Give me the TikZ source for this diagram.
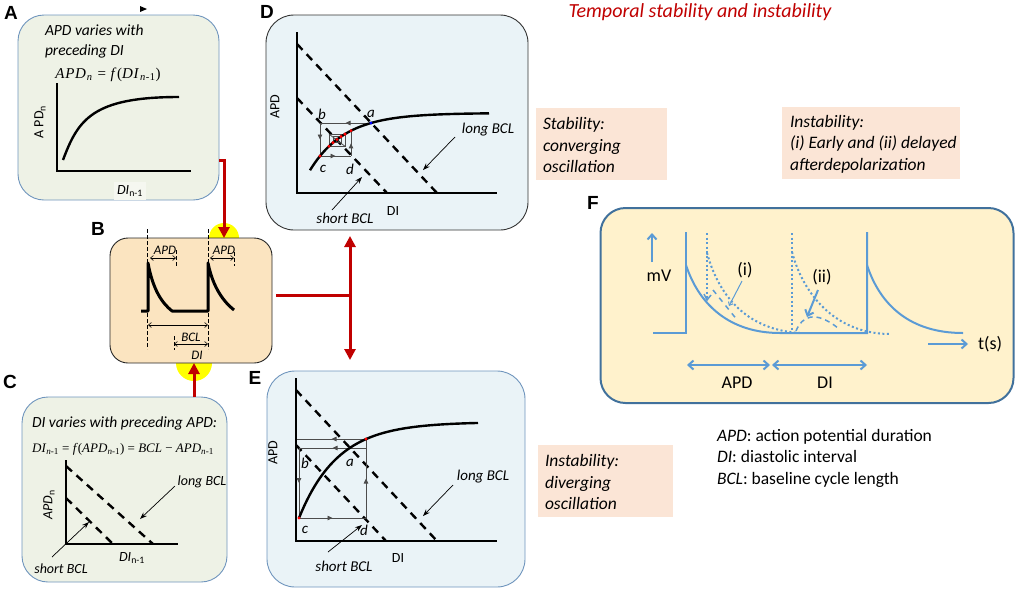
\documentclass[tikz,border=0pt]{standalone}
\usepackage{fontspec}
\setmainfont{Carlito}
\newfontfamily\tnr{Liberation Serif}
\newfontfamily\tnrsp[LetterSpace=5]{Liberation Serif}
\newfontfamily\arl{Liberation Sans}
\usetikzlibrary{arrows.meta,decorations.markings}
\definecolor{redc}{HTML}{C00000}
\definecolor{greenbox}{HTML}{EEF2E6}
\definecolor{greenlab}{HTML}{F5F7F0}
\definecolor{bluebd}{HTML}{6F95BD}
\definecolor{bluebox}{HTML}{EAF3F7}
\definecolor{orangebox}{HTML}{FBE4C0}
\definecolor{peach}{HTML}{FBE5D6}
\definecolor{yellowbox}{HTML}{FFF2CC}
\definecolor{fborder}{HTML}{41719C}
\definecolor{apblue}{HTML}{5B9BD5}
\definecolor{yel}{HTML}{FFFF00}
\newcommand\fsz[2]{\fontsize{#1}{#2}\selectfont}
\begin{document}
\begin{tikzpicture}[x=1pt,y=-1pt,
  lbl/.style={inner sep=0pt, outer sep=0pt},
  letter/.style={lbl, font=\arl\bfseries\fsz{19}{22}},
  box/.style={outer sep=0pt, inner sep=0pt, line width=0.9pt},
  axis/.style={line width=2.4pt},
  curve/.style={line width=2.4pt},
  bcl/.style={line width=2.4pt, dash pattern=on 8pt off 6pt},
  ptr/.style={line width=0.7pt, -{Stealth[length=7pt,width=5pt]}},
  cob/.style={draw=black!70, line width=0.8pt},
  midarr/.style={postaction={decorate}, decoration={markings, mark=at position 0.5 with {\arrow{Triangle[length=5pt,width=4.5pt]}}}},
  redl/.style={draw=redc, line width=3pt},
  redarr/.style={redl, -{Triangle[length=11pt,width=11pt]}},
  apl/.style={line width=3pt, line join=round},
  tdash/.style={line width=0.7pt, dash pattern=on 3.5pt off 2.5pt},
  dbl/.style={line width=0.6pt, {Straight Barb[length=3pt,width=5pt]}-{Straight Barb[length=3pt,width=5pt]}},
  bl/.style={draw=apblue, line width=2pt},
  bdot/.style={draw=apblue, line width=2pt, dash pattern=on 2pt off 2.5pt},
  bdbl/.style={bl, {Straight Barb[length=5pt,width=9pt]}-{Straight Barb[length=5pt,width=9pt]}},
  barr/.style={bl, -{Straight Barb[length=5pt,width=9pt]}},
  reddot/.style={fill=red},
]
\useasboundingbox (0,0) rectangle (1017,590);

% title
\node[lbl, font=\itshape\fsz{20}{24}, text=redc] (title) at (700,12) {Temporal stability and instability};
\fill (140,6) -- (147,9) -- (140,12) -- cycle;

% ---------- Panel A
\node[letter] (LA) at (11,13) {A};
\node[box, draw=bluebd, fill=greenbox, rounded corners=26pt, minimum width=201pt, minimum height=185pt] (A) at (118.5,107.5) {};
\node[lbl, anchor=west, align=left, font=\itshape\fsz{15.5}{20}] (Atxt) at (45,41) {APD varies with\\preceding DI};
\node[lbl, font=\tnrsp\fsz{15}{18}] (Aeq) at (108,75) {\textit{APD}\textsubscript{\textit{n}} = \textit{f}(\textit{DI}\textsubscript{\textit{n}-1})};
\draw[axis] (57,83) -- (57,171) -- (191,171);
\draw[curve] (63,160) .. controls (78,120) and (92,97) .. (179,97);
\node[lbl, rotate=90, font=\fsz{14}{17}] (Ay) at (40,122) {A PD\textsubscript{n}};
\node[lbl, fill=greenlab, inner sep=3pt, font=\itshape\fsz{14}{17}] (Ax) at (130,191) {DI\textsubscript{\upshape n-1}};

% ---------- Panel B
\coordinate (Btop) at (224,238);
\coordinate (Bbot) at (194,363);
\fill[yel] (Btop) circle (15);
\fill[yel] (Bbot) circle (18);
\node[letter] (LB) at (98,229) {B};
\node[box, draw=black!85, fill=orangebox, rounded corners=18pt, minimum width=162pt, minimum height=125pt] (B) at (191,300.5) {};
\draw[tdash] (147,229) -- (147,349);
\draw[tdash] (208,229) -- (208,349);
\draw[tdash] (176,250) -- (176,267);
\draw[tdash] (234,252) -- (234,266);
\draw[tdash] (174,336) -- (174,350);
\draw[apl] (141,311) -- (148,311) -- (148,263) .. controls (153,290) and (162,303) .. (172,311) -- (208,311) -- (208,263) .. controls (213,288) and (224,302) .. (234,310);
\draw[dbl] (150,258) -- (176,258);
\draw[dbl] (210,258) -- (234,258);
\draw[dbl] (148,325) -- (208,325);
\draw[dbl] (174,344) -- (208,344);
\node[lbl, font=\itshape\fsz{13}{15}] (Bapd1) at (165,250) {APD};
\node[lbl, font=\itshape\fsz{13}{15}] (Bapd2) at (224,250) {APD};
\node[lbl, font=\itshape\fsz{13}{15}] (Bbcl) at (191,337) {BCL};
\node[lbl, font=\itshape\fsz{13}{15}] (Bdi) at (197,355) {DI};

% red connector A->B
\draw[redarr] (A.east |- 0,160) -| (Btop);

% ---------- Panel C
\node[letter] (LC) at (10,382) {C};
\node[box, draw=bluebd, fill=greenbox, rounded corners=26pt, minimum width=205pt, minimum height=185pt] (C) at (124.5,489.5) {};
\draw[redarr] (C.north -| Bbot) -- (Bbot);
\node[lbl, anchor=west, font=\itshape\fsz{15.5}{18}] (Ctxt) at (32,423) {DI varies with preceding APD:};
\node[lbl, font=\tnr\fsz{13}{16}] (Ceq) at (123,449) {\textit{DI}\textsubscript{\textit{n}-1} = \textit{f}(\textit{APD}\textsubscript{\textit{n}-1}) = \textit{BCL} − \textit{APD}\textsubscript{\textit{n}-1}};
\draw[bcl] (66,466) -- (153,544);
\draw[bcl] (66,498) -- (113,544);
\draw[axis] (66,460) -- (66,544) -- (178,544);
\node[lbl, rotate=90, font=\itshape\fsz{14}{17}] (Cy) at (49,505) {APD\textsubscript{\upshape n}};
\node[lbl, font=\itshape\fsz{14}{17}] (Cx) at (132,558) {DI\textsubscript{\upshape n-1}};
\node[lbl, font=\itshape\fsz{14}{17}] (Clong) at (202,482) {long BCL};
\node[lbl, font=\itshape\fsz{14}{17}] (Cshort) at (61,569) {short BCL};
\draw[ptr] (175,486) -- (140,519);
\draw[ptr] (52,557) -- (89,522);

% ---------- Panel D
\node[letter] (LD) at (267,12) {D};
\node[box, draw=black!80, fill=bluebox, rounded corners=28pt, minimum width=262pt, minimum height=215pt] (D) at (397,122.5) {};
\draw[bcl] (297,44) -- (437,193);
\draw[bcl] (297,98) -- (387,193);
\draw[axis] (297,32) -- (297,193) -- (497,193);
\draw[cob,midarr] (371,123) -- (320,123);
\draw[cob,midarr] (320,123) -- (320,156);
\draw[cob,midarr] (320,156) -- (351,156);
\draw[cob,midarr] (351,156) -- (351,130.7);
\draw[cob] (329,134.1) rectangle (345,146.3);
\draw[cob] (333,136.6) rectangle (341,142.7);
\draw[cob] (329,134.1) -- (345,146.3);
\draw[curve] plot[domain=310:489, samples=70] (\x, {113+58.9*exp(-(\x-309)/35)});
\foreach \px in {320,329,333,337,341,345,351} \fill[reddot] (\px, {113+58.9*exp(-(\px-309)/35)}) circle (1.7);
\fill[blue] (371,123) circle (1.7);
\node[lbl, font=\itshape\fsz{15}{18}] (Da) at (371,114) {a};
\node[lbl, font=\itshape\fsz{15}{18}] (Db) at (322,114) {b};
\node[lbl, font=\itshape\fsz{15}{18}] (Dc) at (323,169) {c};
\node[lbl, font=\itshape\fsz{15}{18}] (Dd) at (350,169) {d};
\node[lbl, rotate=90, font=\fsz{14}{17}] (Dy) at (275,107) {APD};
\node[lbl, font=\fsz{14}{17}] (Dx) at (393,211) {DI};
\node[lbl, font=\itshape\fsz{15}{18}] (Dlong) at (488,130) {long BCL};
\node[lbl, font=\itshape\fsz{15}{18}] (Dshort) at (345,218) {short BCL};
\draw[ptr] (455,137) -- (423,170);
\draw[ptr] (332,210) -- (362,177);

% ---------- Panel E
\node[letter] (LE) at (255,378) {E};
\node[box, draw=bluebd, fill=bluebox, rounded corners=28pt, minimum width=258pt, minimum height=216pt] (E) at (396,479) {};
\draw[bcl] (296,390) -- (437,541);
\draw[bcl] (296,445) -- (386,541);
\draw[axis] (296,378) -- (296,541) -- (497,541);
\draw[cob,midarr] (366,439) -- (297,439);
\draw[cob,midarr] (366,448) -- (299,448);
\draw[cob,midarr] (299,448) -- (299,518);
\draw[cob,midarr] (299,518) -- (366,518);
\draw[cob,midarr] (366,518) -- (366,439);
\draw[curve] plot[domain=299:478, samples=70] (\x, {422+96*exp(-(\x-299)/38.8)});
\fill[reddot] (299,518) circle (1.7);
\fill[reddot] (366,439) circle (1.7);
\node[lbl, font=\itshape\fsz{15}{18}] (Ea) at (350,463) {a};
\node[lbl, font=\itshape\fsz{15}{18}] (Eb) at (305,463) {b};
\node[lbl, font=\itshape\fsz{15}{18}] (Ec) at (305,530) {c};
\node[lbl, font=\itshape\fsz{15}{18}] (Ed) at (364,530) {d};
\node[lbl, rotate=90, font=\fsz{14}{17}] (Ey) at (273,453) {APD};
\node[lbl, font=\fsz{14}{17}] (Ex) at (398,558) {DI};
\node[lbl, font=\itshape\fsz{15}{18}] (Elong) at (483,477) {long BCL};
\node[lbl, font=\itshape\fsz{15}{18}] (Eshort) at (344,566) {short BCL};
\draw[ptr] (453,485) -- (423,516);
\draw[ptr] (328,552) -- (362,525);

% red B -> D/E
\coordinate (Bout) at (276,295);
\coordinate (J) at (350,295);
\draw[redl] (Bout) -- (J);
\draw[redl, {Triangle[length=11pt,width=11pt]}-{Triangle[length=11pt,width=11pt]}, shorten <=6pt, shorten >=11pt] (D.south -| J) -- (E.north -| J);

% ---------- peach boxes
\node[box, draw=none, fill=peach, minimum width=131pt, minimum height=72pt] (S) at (601.5,144) {};
\node[lbl, anchor=west, align=left, font=\itshape\fsz{17.5}{21.5}] (Stxt) at (543,145) {Stability:\\converging\\oscillation};
\node[box, draw=none, fill=peach, minimum width=178pt, minimum height=72pt] (I) at (871,143) {};
\node[lbl, anchor=west, align=left, font=\itshape\fsz{17.5}{21.5}] (Itxt) at (790,144) {Instability:\\(i) Early and (ii) delayed\\afterdepolarization};
\node[box, draw=none, fill=peach, minimum width=135pt, minimum height=72pt] (ID) at (605.5,481) {};
\node[lbl, anchor=west, align=left, font=\itshape\fsz{17.5}{21.5}] (IDtxt) at (545,482) {Instability:\\diverging\\oscillation};

% ---------- Panel F
\node[letter] (LF) at (593,203) {F};
\node[box, draw=fborder, line width=2pt, fill=yellowbox, rounded corners=25pt, minimum width=413pt, minimum height=195pt] (F) at (807,305.5) {};
\draw[barr] (652,262) -- (652,233);
\node[lbl, font=\fsz{18}{21}] (mv) at (659,276) {mV};
\draw[bl] (653,333) -- (686,333) -- (686,232);
\draw[bl] (686,265) .. controls (699,305) and (730,333) .. (780,333) -- (867,333) -- (867,232);
\draw[bl] (867,265) .. controls (880,305) and (910,333) .. (963,333);
\draw[bdot] (707,233) -- (707,298);
\draw[bdot] (707,253) .. controls (720,300) and (750,330) .. (800,333);
\draw[bdot] (792,233) -- (792,333);
\draw[bdot] (792,252) .. controls (805,300) and (840,334) .. (890,334);
\draw[draw=apblue, line width=1.5pt, dash pattern=on 5pt off 5pt] (713,290) -- (738,321);
\draw[draw=apblue, line width=1.5pt] (704,294) -- (707,300) -- (711,295);
\draw[draw=apblue, line width=1.5pt, dash pattern=on 5pt off 4pt] (796,331) .. controls (802,316) and (815,310) .. (838,328);
\draw[draw=apblue, line width=1pt, -{Straight Barb[length=3pt,width=5pt]}] (742,281) -- (729,306);
\draw[draw=apblue, line width=2pt, -{Straight Barb[length=5pt,width=9pt]}] (818,290) -- (807,317);
\node[lbl, font=\fsz{18}{21}] (Fi) at (745,270) {(i)};
\node[lbl, font=\fsz{18}{21}] (Fii) at (822,277) {(ii)};
\draw[barr] (928,344) -- (968,344);
\node[lbl, font=\fsz{18}{21}] (ts) at (990,344) {t(s)};
\draw[bdbl] (687,365) -- (770,365);
\draw[bdbl] (772,365) -- (867,365);
\node[lbl, font=\fsz{18}{21}] (Fapd) at (737,383) {APD};
\node[lbl, font=\fsz{18}{21}] (Fdi) at (825,383) {DI};

% legend
\node[lbl, anchor=west, align=left, font=\fsz{17.5}{21.5}] (leg) at (717,458) {\textit{APD}: action potential duration\\\textit{DI}: diastolic interval\\\textit{BCL}: baseline cycle length};
\end{tikzpicture}
\end{document}
